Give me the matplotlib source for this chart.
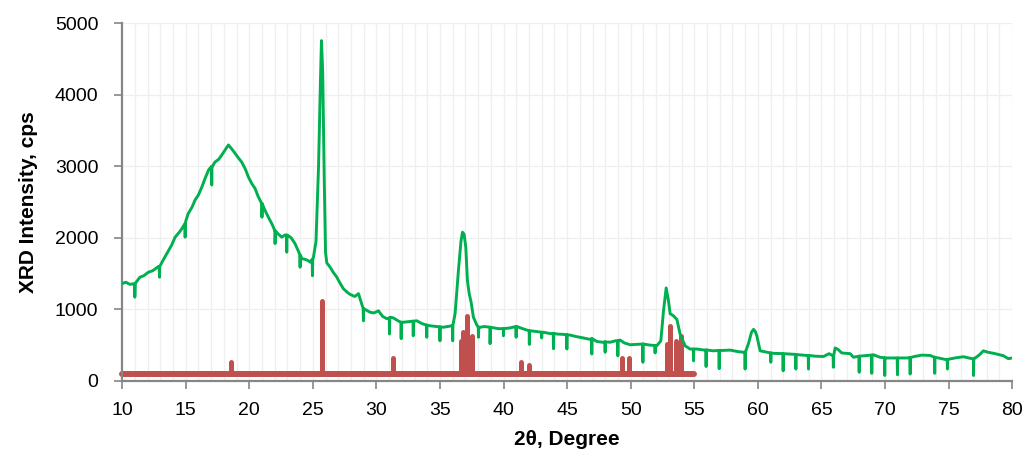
import matplotlib
matplotlib.use("Agg")
import matplotlib.pyplot as plt
import numpy as np

# ---- measured XRD pattern (green), main profile points ----
base_x = [10.0, 10.3, 10.6, 11.0, 11.4, 11.7, 12.07, 12.4, 12.86, 13.2, 13.65, 13.9, 14.17, 14.5, 14.7,
          15.0, 15.2, 15.5, 15.74, 16.0, 16.27, 16.5, 16.8, 17.1, 17.3, 17.6, 17.84, 18.1, 18.36, 18.6,
          18.9, 19.1, 19.41, 19.7, 19.94, 20.2, 20.46, 20.7, 20.99, 21.2, 21.5, 21.8, 22.03, 22.3, 22.56,
          22.8, 23.08, 23.3, 23.6, 23.9, 24.13, 24.4, 24.65, 24.8, 25.05, 25.25, 25.45, 25.6, 25.68, 25.78,
          25.9, 26.0, 26.1, 26.36, 26.6, 26.89, 27.1, 27.4, 27.7, 27.93, 28.3, 28.59, 28.8, 29.1, 29.5,
          29.8, 30.16, 30.5, 30.82, 31.1, 31.34, 31.7, 32.13, 32.6, 33.18, 33.6, 34.23, 34.7, 35.27, 35.6,
          35.93, 36.19, 36.45, 36.65, 36.77, 36.9, 37.03, 37.16, 37.3, 37.45, 37.63, 37.9, 38.16, 38.5,
          38.94, 39.3, 39.6, 39.99, 40.5, 41.04, 41.5, 42.09, 42.6, 43.14, 43.7, 44.19, 44.7, 45.24, 45.7,
          46.28, 46.8, 47.34, 47.8, 48.38, 48.8, 49.17, 49.5, 49.96, 50.5, 51.0, 51.5, 52.05, 52.37, 52.58,
          52.79, 52.97, 53.1, 53.36, 53.63, 53.89, 54.28, 54.67, 55.2, 55.8, 56.5, 57.2, 57.82, 58.4, 58.87,
          59.26, 59.5, 59.66, 59.8, 59.92, 60.18, 60.7, 61.23, 61.9, 62.54, 63.2, 63.85, 64.5, 65.16, 65.6,
          66.08, 66.3, 66.6, 67.26, 67.52, 68.3, 69.09, 69.6, 70.15, 70.9, 71.72, 72.3, 72.9, 73.55, 74.2,
          74.86, 75.5, 76.17, 76.6, 76.96, 77.4, 77.74, 78.1, 78.53, 78.9, 79.32, 79.7, 80.0]
base_y = [1360, 1380, 1350, 1360, 1450, 1470, 1520, 1540, 1600, 1680, 1820, 1900, 2010, 2080, 2130,
          2230, 2340, 2430, 2530, 2600, 2710, 2820, 2950, 3000, 3060, 3100, 3160, 3230, 3300, 3250,
          3180, 3130, 3060, 2960, 2850, 2760, 2690, 2580, 2480, 2400, 2290, 2190, 2100, 2050, 2010,
          2040, 2030, 2000, 1920, 1800, 1710, 1700, 1680, 1660, 1730, 1950, 3000, 4200, 4760, 4300,
          2800, 1800, 1650, 1590, 1520, 1450, 1380, 1290, 1240, 1210, 1180, 1220, 1100, 1000, 960,
          950, 980, 900, 870, 890, 880, 840, 820, 830, 840, 800, 770, 760, 750, 760,
          770, 940, 1540, 1950, 2080, 2050, 1870, 1400, 1220, 1100, 890, 780, 750, 760,
          750, 740, 730, 730, 740, 760, 730, 700, 690, 680, 660, 655, 650, 640, 620,
          600, 580, 550, 540, 540, 560, 570, 530, 505, 510, 515, 500, 490, 560, 980,
          1300, 1120, 940, 910, 860, 650, 490, 445, 445, 430, 420, 425, 430, 410, 400,
          520, 680, 720, 690, 630, 420, 400, 385, 380, 375, 365, 355, 345, 340, 380,
          460, 440, 390, 380, 330, 350, 365, 330, 320, 320, 320, 340, 360, 355, 320,
          295, 320, 337, 320, 305, 360, 420, 400, 385, 370, 350, 310, 320]

# ---- narrow downward spikes in the measured pattern ----
spike_x = [11.0, 12.94, 14.96, 17.05, 21.0, 22.03, 22.95, 24.0, 24.97, 28.98, 31.03, 31.95, 32.9, 33.96,
           35.0, 36.0, 38.03, 38.94, 39.99, 40.99, 42.03, 43.0, 43.93, 44.98, 46.94, 47.99, 48.99, 50.96,
           51.92, 54.94, 55.93, 56.96, 59.0, 61.02, 61.99, 62.99, 63.98, 65.94, 67.97, 68.96, 69.98,
           70.98, 71.98, 73.91, 74.91, 76.96]
spike_top = [1360, 1600, 2200, 3000, 2480, 2100, 2040, 1760, 1700, 1010, 880, 820, 835, 780,
             755, 780, 750, 750, 730, 760, 700, 680, 665, 645, 590, 545, 560, 515,
             495, 445, 432, 425, 400, 390, 380, 370, 355, 350, 345, 360, 322,
             320, 325, 330, 300, 305]
spike_low = [1170, 1450, 2010, 2740, 2290, 1920, 1800, 1590, 1470, 840, 655, 590, 630, 610,
             560, 560, 610, 520, 630, 610, 510, 600, 450, 445, 375, 400, 350, 260,
             390, 280, 200, 170, 165, 260, 140, 165, 165, 190, 120, 105, 75,
             85, 95, 105, 165, 75]

# ---- reference stick pattern (red) ----
ref_x = [18.55, 25.76, 31.27, 36.67, 36.85, 37.1, 37.55, 41.37, 42.02, 49.3, 49.9, 52.85, 53.1, 53.6, 53.98]
ref_h = [261, 1120, 316, 560, 680, 910, 630, 270, 223, 316, 316, 517, 773, 563, 624]
ref_base = 100
ref_range = [10, 55]

# build measured curve with spikes
pts = list(zip(base_x, base_y))
for sx, st, sl in zip(spike_x, spike_top, spike_low):
    pts += [(sx - 0.02, st), (sx, sl), (sx + 0.02, st)]
pts.sort(key=lambda p: p[0])
mx = [p[0] for p in pts]
my = [p[1] for p in pts]

green = "#00B050"
red = "#C0504D"
grey = "#868686"

fig = plt.figure(figsize=(10.26, 4.65), dpi=100)
ax = fig.add_axes([0.119, 0.181, 0.8675, 0.7685])

ax.set_xlim(10, 80)
ax.set_ylim(0, 5000)

# gridlines
for gx in range(11, 81):
    ax.axvline(gx, color="#EFEFEF", lw=0.9, zorder=0)
for gy in range(1000, 6000, 1000):
    ax.axhline(gy, color="#EFEFEF", lw=0.9, zorder=0)

# reference sticks
ax.plot(ref_range, [ref_base, ref_base], color=red, lw=4.3, solid_capstyle="round", zorder=2, clip_on=False)
for x, h in zip(ref_x, ref_h):
    ax.plot([x, x], [ref_base, h], color=red, lw=3.6, solid_capstyle="round", zorder=2)

ax.plot(mx, my, color=green, lw=2.1, zorder=3)

for s in ["top", "right"]:
    ax.spines[s].set_visible(False)
for s in ["left", "bottom"]:
    ax.spines[s].set_color(grey)
    ax.spines[s].set_linewidth(1.6)

ax.set_xticks(range(10, 81, 5))
ax.set_yticks(range(0, 5001, 1000))
ax.tick_params(axis="both", colors=grey, width=1.2, length=6, labelcolor="#000000",
               labelsize=14)
ax.tick_params(axis="y", pad=11)
ax.tick_params(axis="x", pad=9)
for lab in ax.get_xticklabels() + ax.get_yticklabels():
    lab.set_fontfamily("Liberation Sans")

ax.set_xlabel("2θ, Degree", fontsize=15, fontweight="bold", family="Liberation Sans", labelpad=8)
ax.set_ylabel("XRD Intensity, cps", fontsize=15, fontweight="bold", family="Liberation Sans", labelpad=12)

fig.savefig("out.png", dpi=100)
